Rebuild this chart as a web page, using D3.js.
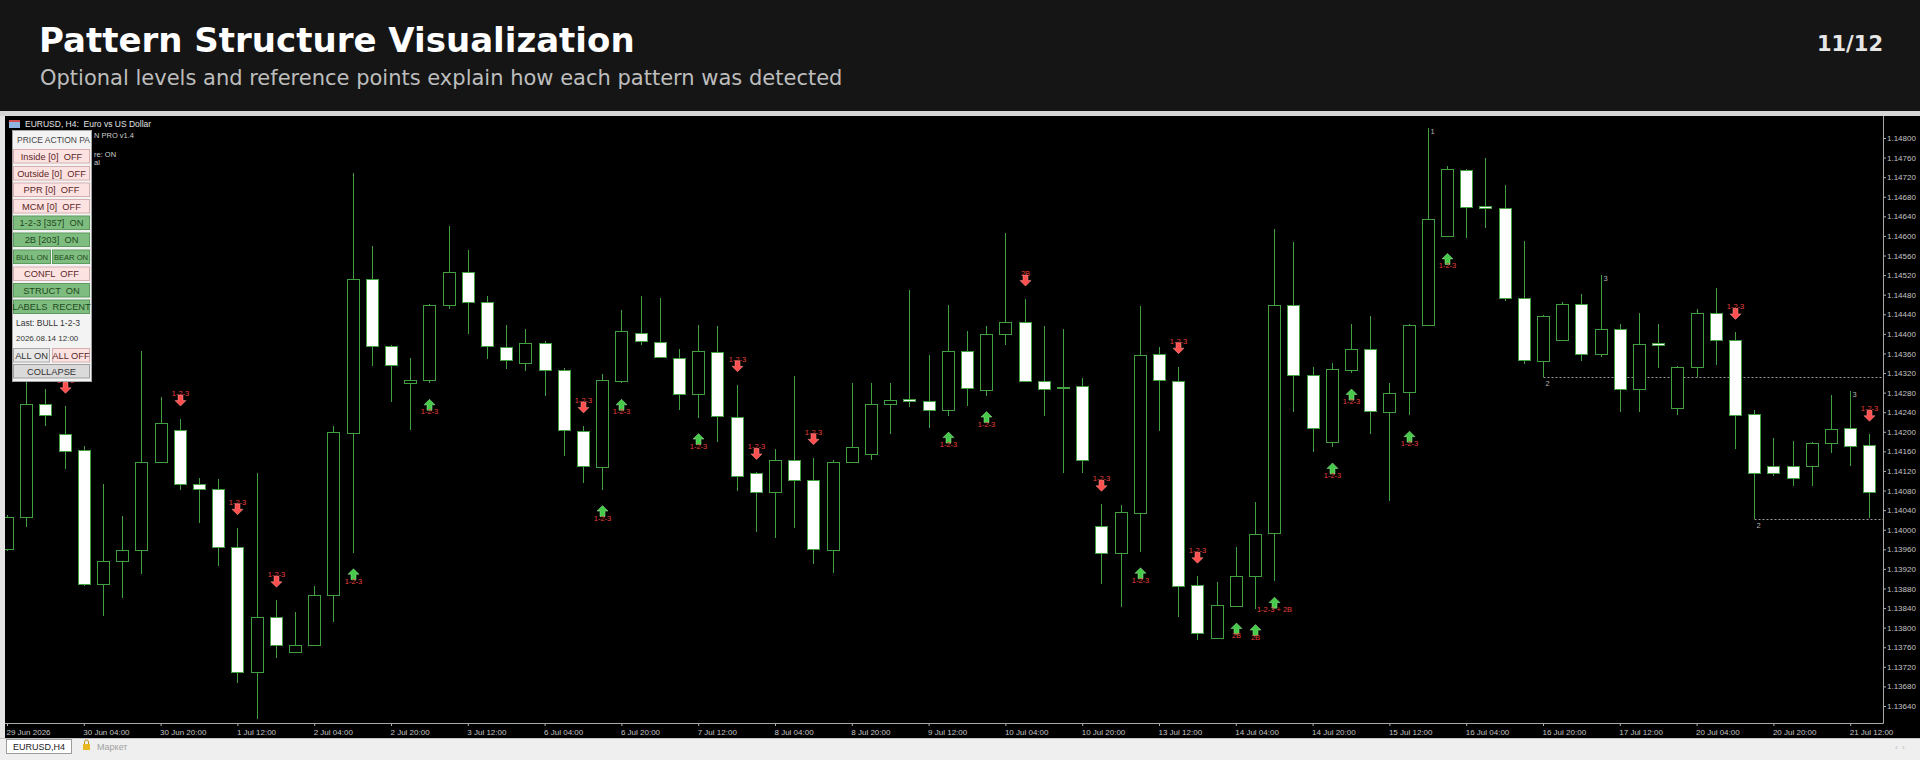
<!DOCTYPE html>
<html>
<head>
<meta charset="utf-8">
<script src="https://d3js.org/d3.v7.min.js"></script>
<style>
  html, body { margin: 0; padding: 0; background: #151515; }
  svg { display: block; }
  svg text { white-space: pre; }
</style>
</head>
<body>
<svg id="chart" width="1920" height="760"></svg>
<script>
// EURUSD H4 bars, 29 Jun 12:00 .. 21 Jul 16:00
var days = ["29 Jun", "30 Jun", "1 Jul", "2 Jul", "3 Jul", "6 Jul", "7 Jul", "8 Jul", "9 Jul",
            "10 Jul", "13 Jul", "14 Jul", "15 Jul", "16 Jul", "17 Jul", "20 Jul", "21 Jul"];
var hours = ["00:00", "04:00", "08:00", "12:00", "16:00", "20:00"];
var barTimes = days.flatMap(function(d) { return hours.map(function(h) { return d + " " + h; }); }).slice(3, 101);

var opens = [
  1.13961, 1.14026, 1.14256, 1.14195, 1.14163, 1.13889, 1.13937, 1.13959, 1.14139, 1.14203,
  1.14094, 1.14084, 1.13965, 1.13709, 1.13822, 1.13750, 1.13764, 1.13867, 1.14198, 1.14512,
  1.14375, 1.14300, 1.14306, 1.14458, 1.14526, 1.14466, 1.14373, 1.14341, 1.14381, 1.14326,
  1.14202, 1.14129, 1.14303, 1.14401, 1.14383, 1.14350, 1.14278, 1.14362, 1.14231, 1.14115,
  1.14077, 1.14143, 1.14101, 1.13959, 1.14139, 1.14155, 1.14256, 1.14266, 1.14262, 1.14245,
  1.14365, 1.14286, 1.14399, 1.14425, 1.14303, 1.14290, 1.14294, 1.14008, 1.13953, 1.14035,
  1.14358, 1.14304, 1.13887, 1.13778, 1.13844, 1.13905, 1.13994, 1.14459, 1.14316, 1.14179,
  1.14326, 1.14369, 1.14240, 1.14282, 1.14419, 1.14599, 1.14735, 1.14661, 1.14657, 1.14473,
  1.14345, 1.14387, 1.14462, 1.14358, 1.14409, 1.14288, 1.14381, 1.14249, 1.14333, 1.14442,
  1.14387, 1.14236, 1.14131, 1.14131, 1.14131, 1.14177, 1.14207, 1.14173
];
var highs = [
  1.14030, 1.14330, 1.14288, 1.14252, 1.14170, 1.14094, 1.14028, 1.14365, 1.14272, 1.14226,
  1.14106, 1.14104, 1.14004, 1.14116, 1.13856, 1.13831, 1.13885, 1.14212, 1.14728, 1.14580,
  1.14378, 1.14350, 1.14462, 1.14621, 1.14571, 1.14478, 1.14419, 1.14409, 1.14385, 1.14330,
  1.14212, 1.14318, 1.14448, 1.14478, 1.14474, 1.14370, 1.14419, 1.14417, 1.14296, 1.14117,
  1.14165, 1.14314, 1.14147, 1.14143, 1.14300, 1.14300, 1.14300, 1.14490, 1.14357, 1.14459,
  1.14405, 1.14417, 1.14605, 1.14471, 1.14417, 1.14409, 1.14310, 1.14052, 1.14050, 1.14456,
  1.14373, 1.14333, 1.13905, 1.13894, 1.13965, 1.14057, 1.14615, 1.14587, 1.14333, 1.14341,
  1.14421, 1.14436, 1.14300, 1.14421, 1.14821, 1.14742, 1.14737, 1.14760, 1.14705, 1.14589,
  1.14438, 1.14466, 1.14482, 1.14520, 1.14421, 1.14442, 1.14421, 1.14335, 1.14450, 1.14494,
  1.14403, 1.14244, 1.14187, 1.14181, 1.14179, 1.14276, 1.14283, 1.14195
];
var lows = [
  1.13957, 1.14006, 1.14212, 1.14123, 1.13886, 1.13824, 1.13860, 1.13909, 1.14137, 1.14082,
  1.14014, 1.13925, 1.13687, 1.13614, 1.13739, 1.13748, 1.13762, 1.13812, 1.13953, 1.14334,
  1.14260, 1.14203, 1.14299, 1.14451, 1.14400, 1.14349, 1.14329, 1.14324, 1.14274, 1.14151,
  1.14096, 1.14082, 1.14299, 1.14377, 1.14350, 1.14245, 1.14229, 1.14179, 1.14080, 1.13996,
  1.13983, 1.14003, 1.13929, 1.13911, 1.14137, 1.14143, 1.14195, 1.14250, 1.14207, 1.14232,
  1.14252, 1.14274, 1.14377, 1.14302, 1.14232, 1.14116, 1.14115, 1.13889, 1.13842, 1.13955,
  1.14202, 1.13822, 1.13775, 1.13776, 1.13842, 1.13839, 1.13895, 1.14240, 1.14159, 1.14169,
  1.14320, 1.14195, 1.14058, 1.14234, 1.14417, 1.14597, 1.14595, 1.14617, 1.14467, 1.14339,
  1.14312, 1.14385, 1.14344, 1.14353, 1.14240, 1.14241, 1.14331, 1.14234, 1.14312, 1.14337,
  1.14165, 1.14022, 1.14110, 1.14089, 1.14089, 1.14157, 1.14131, 1.14023
];
var closes = [
  1.14026, 1.14256, 1.14234, 1.14161, 1.13889, 1.13937, 1.13959, 1.14139, 1.14217, 1.14094,
  1.14084, 1.13965, 1.13709, 1.13822, 1.13765, 1.13764, 1.13867, 1.14199, 1.14512, 1.14375,
  1.14337, 1.14306, 1.14459, 1.14526, 1.14466, 1.14375, 1.14347, 1.14381, 1.14326, 1.14203,
  1.14131, 1.14305, 1.14405, 1.14385, 1.14353, 1.14278, 1.14365, 1.14232, 1.14110, 1.14077,
  1.14143, 1.14102, 1.13960, 1.14139, 1.14169, 1.14256, 1.14264, 1.14262, 1.14245, 1.14366,
  1.14290, 1.14399, 1.14425, 1.14303, 1.14288, 1.14292, 1.14142, 1.13953, 1.14036, 1.14357,
  1.14306, 1.13885, 1.13790, 1.13846, 1.13905, 1.13992, 1.14459, 1.14316, 1.14207, 1.14329,
  1.14369, 1.14242, 1.14280, 1.14419, 1.14634, 1.14736, 1.14659, 1.14658, 1.14473, 1.14346,
  1.14436, 1.14462, 1.14359, 1.14409, 1.14288, 1.14379, 1.14378, 1.14333, 1.14442, 1.14387,
  1.14234, 1.14116, 1.14115, 1.14106, 1.14177, 1.14205, 1.14170, 1.14078
];

// pattern signals (bar index, direction, label)
var markerIdx  = [3, 9, 12, 14, 18, 22, 30, 31, 32, 36, 38, 39, 42, 49, 51, 53, 57, 59, 61, 62, 64, 65, 66, 69, 70, 73, 75, 90, 97];
var markerDir  = ["dn","dn","dn","dn","up","up","dn","up","up","up","dn","dn","dn","up","up","dn","dn","up","dn","dn","up","up","up","up","up","up","up","dn","dn"];
var markerText = ["1-2-3","1-2-3","1-2-3","1-2-3","1-2-3","1-2-3","1-2-3","1-2-3","1-2-3","1-2-3","1-2-3","1-2-3","1-2-3","1-2-3","1-2-3","2B","1-2-3","1-2-3","1-2-3","1-2-3","2B","2B","1-2-3 + 2B","1-2-3","1-2-3","1-2-3","1-2-3","1-2-3","1-2-3"];

// structure points
var structIdx  = [74, 80, 83, 91, 96];
var structText = ["1", "2", "3", "2", "3"];
var structSide = ["high", "low", "high", "low", "high"];
var levelIdx   = [80, 91];

var priceTicks = [1.13640, 1.13680, 1.13720, 1.13760, 1.13800, 1.13840, 1.13880, 1.13920, 1.13960, 1.14000,
                  1.14040, 1.14080, 1.14120, 1.14160, 1.14200, 1.14240, 1.14280, 1.14320, 1.14360, 1.14400,
                  1.14440, 1.14480, 1.14520, 1.14560, 1.14600, 1.14640, 1.14680, 1.14720, 1.14760, 1.14800];
var timeTickLabels = ["29 Jun 2026", "30 Jun 04:00", "30 Jun 20:00", "1 Jul 12:00", "2 Jul 04:00", "2 Jul 20:00",
                      "3 Jul 12:00", "6 Jul 04:00", "6 Jul 20:00", "7 Jul 12:00", "8 Jul 04:00", "8 Jul 20:00",
                      "9 Jul 12:00", "10 Jul 04:00", "10 Jul 20:00", "13 Jul 12:00", "14 Jul 04:00", "14 Jul 20:00",
                      "15 Jul 12:00", "16 Jul 04:00", "16 Jul 20:00", "17 Jul 12:00", "20 Jul 04:00", "20 Jul 20:00",
                      "21 Jul 12:00"];

var svg = d3.select("#chart");
var W = 1920, H = 760;
var plotL = 5, plotR = 1883, plotT = 116, plotB = 723;
var candleGreen = "#42a042";
var axisFont = "'Liberation Sans', Arial, sans-serif";

var x = d3.scalePoint().domain(barTimes).range([7, 7 + 97 * 19.2]);
var y = d3.scaleLinear().domain([1.1364, 1.148]).range([706, 138]);

// header
svg.append("rect").attr("width", W).attr("height", H).attr("fill", "#151515");
svg.append("text").attr("x", 39).attr("y", 52)
    .attr("font-family", "'DejaVu Sans', sans-serif").attr("font-weight", "bold").attr("font-size", 34)
    .attr("fill", "#ffffff").text("Pattern Structure Visualization");
svg.append("text").attr("x", 40).attr("y", 85)
    .attr("font-family", "'DejaVu Sans', sans-serif").attr("font-size", 21)
    .attr("fill", "#bdbdbd").text("Optional levels and reference points explain how each pattern was detected");
svg.append("text").attr("x", 1883).attr("y", 51).attr("text-anchor", "end")
    .attr("font-family", "'DejaVu Sans', sans-serif").attr("font-weight", "bold").attr("font-size", 21)
    .attr("fill", "#e6e6e6").text("11/12");

// terminal frame
svg.append("rect").attr("x", 0).attr("y", 111).attr("width", W).attr("height", 5).attr("fill", "#d6d6d6");
svg.append("rect").attr("x", 0).attr("y", 116).attr("width", 5).attr("height", 644).attr("fill", "#e4e4e4");
svg.append("rect").attr("x", plotL).attr("y", plotT).attr("width", W - plotL).attr("height", 738 - plotT).attr("fill", "#000");

// tab bar
var tabs = svg.append("g");
tabs.append("rect").attr("x", 0).attr("y", 738).attr("width", W).attr("height", 22).attr("fill", "#efefef");
tabs.append("line").attr("x1", 0).attr("x2", W).attr("y1", 738.5).attr("y2", 738.5).attr("stroke", "#c4c4c4");
tabs.append("rect").attr("x", 6.5).attr("y", 739.5).attr("width", 65).attr("height", 14)
    .attr("fill", "#fff").attr("stroke", "#9c9c9c");
tabs.append("text").attr("x", 39).attr("y", 750).attr("text-anchor", "middle")
    .attr("font-family", axisFont).attr("font-size", 9).attr("fill", "#222").text("EURUSD,H4");
tabs.append("rect").attr("x", 83).attr("y", 744).attr("width", 7).attr("height", 6).attr("fill", "#e8b820");
tabs.append("path").attr("d", "M84.5,744 v-2 a2,2 0 0 1 4,0 v2").attr("fill", "none").attr("stroke", "#c09010");
tabs.append("text").attr("x", 97).attr("y", 750)
    .attr("font-family", axisFont).attr("font-size", 9).attr("fill", "#a0a0a0").text("Маркет");
tabs.append("text").attr("x", 1895).attr("y", 750)
    .attr("font-family", axisFont).attr("font-size", 8).attr("fill", "#b8b8b8").text("‹  ›");

// plot clip
svg.append("clipPath").attr("id", "plotClip").append("rect")
    .attr("x", plotL).attr("y", plotT).attr("width", plotR - plotL).attr("height", plotB - plotT);
var plot = svg.append("g").attr("clip-path", "url(#plotClip)");

// axes
var yAxis = d3.axisRight(y).tickValues(priceTicks).tickSize(3).tickPadding(1).tickFormat(d3.format(".5f"));
var gy = svg.append("g").attr("transform", "translate(" + plotR + ",0)").call(yAxis);
gy.select(".domain").remove();
gy.selectAll("line").attr("stroke", "#b0b0b0");
gy.selectAll("text").attr("fill", "#c4c4c4").attr("font-family", axisFont).attr("font-size", 8);

var tickKeys = timeTickLabels.map(function(d, i) { return barTimes[i * 4]; });
var xAxis = d3.axisBottom(x).tickValues(tickKeys).tickSize(3).tickPadding(3)
    .tickFormat(function(d) { return timeTickLabels[tickKeys.indexOf(d)]; });
var gx = svg.append("g").attr("transform", "translate(0," + plotB + ")").call(xAxis);
gx.select(".domain").remove();
gx.selectAll("line").attr("stroke", "#b0b0b0");
gx.selectAll("text").attr("fill", "#c4c4c4").attr("font-family", axisFont).attr("font-size", 8)
    .attr("text-anchor", "start").attr("dx", -1);

svg.append("line").attr("x1", plotR + 0.5).attr("x2", plotR + 0.5).attr("y1", plotT).attr("y2", plotB + 0.5)
    .attr("stroke", "#a8a8a8");
svg.append("line").attr("x1", plotL).attr("x2", plotR + 0.5).attr("y1", plotB + 0.5).attr("y2", plotB + 0.5)
    .attr("stroke", "#a8a8a8");

// chart caption; the indicator info lines mostly sit under the panel, only their tails show
svg.append("rect").attr("x", 9).attr("y", 120).attr("width", 11).attr("height", 8).attr("fill", "#8fb4e0");
svg.append("rect").attr("x", 9).attr("y", 120).attr("width", 11).attr("height", 2).attr("fill", "#d05050");
svg.append("text").attr("x", 25).attr("y", 127).attr("font-family", axisFont).attr("font-size", 8.5)
    .attr("fill", "#e2e2e2").text("EURUSD, H4:  Euro vs US Dollar");
svg.append("text").attr("x", 94).attr("y", 138).attr("font-family", axisFont).attr("font-size", 7.5)
    .attr("fill", "#cfcfcf").text("N PRO v1.4");
svg.append("text").attr("x", 94).attr("y", 157).attr("font-family", axisFont).attr("font-size", 7.5)
    .attr("fill", "#cfcfcf").text("re: ON");
svg.append("text").attr("x", 94).attr("y", 165).attr("font-family", axisFont).attr("font-size", 7.5)
    .attr("fill", "#cfcfcf").text("al");

// structure levels
var px = function(i) { return Math.round(x(barTimes[i])) + 0.5; };
plot.selectAll("line.level").data(levelIdx).enter().append("line")
    .attr("class", "level")
    .attr("x1", function(i) { return px(i); }).attr("x2", plotR)
    .attr("y1", function(i) { return Math.round(y(lows[i])) + 0.5; })
    .attr("y2", function(i) { return Math.round(y(lows[i])) + 0.5; })
    .attr("stroke", "#9a9a9a").attr("stroke-dasharray", "2,2");

// candles
var bars = barTimes.map(function(t, i) {
    return { t: t, o: opens[i], h: highs[i], l: lows[i], c: closes[i] };
});
var candle = plot.selectAll("g.candle").data(bars).enter().append("g").attr("class", "candle");
candle.append("line")
    .attr("x1", function(d) { return Math.round(x(d.t)) + 0.5; })
    .attr("x2", function(d) { return Math.round(x(d.t)) + 0.5; })
    .attr("y1", function(d) { return Math.round(y(d.h)); })
    .attr("y2", function(d) { return Math.round(y(d.l)); })
    .attr("stroke", candleGreen);
candle.append("rect")
    .attr("x", function(d) { return Math.round(x(d.t)) - 6 + 0.5; })
    .attr("width", 12)
    .attr("y", function(d) { return Math.round(y(Math.max(d.o, d.c))) + 0.5; })
    .attr("height", function(d) {
        return Math.max(1, Math.round(y(Math.min(d.o, d.c))) - Math.round(y(Math.max(d.o, d.c))));
    })
    .attr("fill", function(d) { return d.c >= d.o ? "#000" : "#fff"; })
    .attr("stroke", candleGreen);

// structure labels
plot.selectAll("text.struct").data(structIdx).enter().append("text")
    .attr("class", "struct")
    .attr("x", function(i) { return px(i) + 2; })
    .attr("y", function(i, k) {
        return structSide[k] == "high" ? y(highs[i]) + 6 : y(lows[i]) + 9;
    })
    .attr("font-family", axisFont).attr("font-size", 7.5).attr("fill", "#b4b4b4")
    .text(function(i, k) { return structText[k]; });

// signal markers
var arrowDown = "M-2.5,-11 L2.5,-11 L2.5,-5.5 L5.5,-5.5 L0,0 L-5.5,-5.5 L-2.5,-5.5 Z";
var arrowUp = "M-2.5,11 L2.5,11 L2.5,5.5 L5.5,5.5 L0,0 L-5.5,5.5 L-2.5,5.5 Z";
var markers = plot.selectAll("g.marker").data(markerIdx).enter().append("g")
    .attr("class", "marker")
    .attr("transform", function(i, k) {
        var yy = markerDir[k] == "dn" ? y(highs[i]) - 22 : y(lows[i]) + 22;
        return "translate(" + px(i) + "," + yy + ")";
    });
markers.each(function(i, k) {
    var g = d3.select(this);
    if (markerDir[k] == "dn") {
        g.append("text").attr("y", -1).attr("text-anchor", "middle")
            .attr("font-family", axisFont).attr("font-size", 7.5).attr("fill", "#e8413c")
            .text(markerText[k]);
        g.append("path").attr("d", arrowDown).attr("transform", "translate(0,9)")
            .attr("fill", "#ff4f4f").attr("stroke", "#ff9a9a").attr("stroke-width", 0.5);
    } else {
        g.append("path").attr("d", arrowUp).attr("transform", "translate(0,-6)")
            .attr("fill", "#47c94a").attr("stroke", "#9ee89e").attr("stroke-width", 0.5);
        g.append("text").attr("y", 9).attr("text-anchor", "middle")
            .attr("font-family", axisFont).attr("font-size", 7.5).attr("fill", "#e8413c")
            .text(markerText[k]);
    }
});

// control panel
var panel = svg.append("g");
panel.append("rect").attr("x", 12.5).attr("y", 130.5).attr("width", 79).attr("height", 251)
    .attr("fill", "#f3f3f3").attr("stroke", "#a6a6a6");
panel.append("text").attr("x", 17).attr("y", 143).attr("font-family", axisFont).attr("font-size", 9.3)
    .attr("textLength", 73).attr("lengthAdjust", "spacingAndGlyphs")
    .attr("fill", "#444").text("PRICE ACTION PA");

var styles = {
    off: { fill: "#fde2e2", stroke: "#d6b0b0", text: "#5b2626" },
    on: { fill: "#7fbc7f", stroke: "#5e9b5e", text: "#1d4a1d" },
    gray: { fill: "#e7e7e7", stroke: "#a8a8a8", text: "#333" },
    mid: { fill: "#dadada", stroke: "#a0a0a0", text: "#333" }
};
var buttons = [
    { x: 13.5, y: 149.5, w: 76, label: "Inside [0]  OFF", s: "off" },
    { x: 13.5, y: 166.5, w: 76, label: "Outside [0]  OFF", s: "off" },
    { x: 13.5, y: 183, w: 76, label: "PPR [0]  OFF", s: "off" },
    { x: 13.5, y: 199.5, w: 76, label: "MCM [0]  OFF", s: "off" },
    { x: 13.5, y: 216, w: 76, label: "1-2-3 [357]  ON", s: "on" },
    { x: 13.5, y: 233, w: 76, label: "2B [203]  ON", s: "on" },
    { x: 13.5, y: 250, w: 37, label: "BULL ON", s: "on", size: 7.6 },
    { x: 52.5, y: 250, w: 37, label: "BEAR ON", s: "on", size: 7.6 },
    { x: 13.5, y: 267, w: 76, label: "CONFL  OFF", s: "off" },
    { x: 13.5, y: 283.5, w: 76, label: "STRUCT  ON", s: "on" },
    { x: 13.5, y: 300, w: 76, label: "LABELS  RECENT", s: "on" },
    { x: 13.5, y: 348.5, w: 36, label: "ALL ON", s: "gray" },
    { x: 52.5, y: 348.5, w: 37, label: "ALL OFF", s: "off" },
    { x: 13.5, y: 364.5, w: 76, label: "COLLAPSE", s: "mid" }
];
buttons.forEach(function(b) {
    var st = styles[b.s];
    var bg = panel.append("g").attr("transform", "translate(" + (b.x - 0.5) + "," + (b.y - 0.5) + ")");
    bg.append("rect").attr("x", 0.5).attr("y", 0.5).attr("width", b.w).attr("height", 13.5)
        .attr("fill", st.fill).attr("stroke", st.stroke);
    bg.append("text").attr("x", (b.w + 1) / 2).attr("y", 10.5).attr("text-anchor", "middle")
        .attr("font-family", axisFont).attr("font-size", b.size || 9.3).attr("fill", st.text).text(b.label);
});
panel.append("text").attr("x", 16).attr("y", 325.5).attr("font-family", axisFont).attr("font-size", 8.5)
    .attr("fill", "#333").text("Last: BULL 1-2-3");
panel.append("text").attr("x", 16).attr("y", 341).attr("font-family", axisFont).attr("font-size", 8)
    .attr("fill", "#333").text("2026.08.14 12:00");
</script>
</body>
</html>
